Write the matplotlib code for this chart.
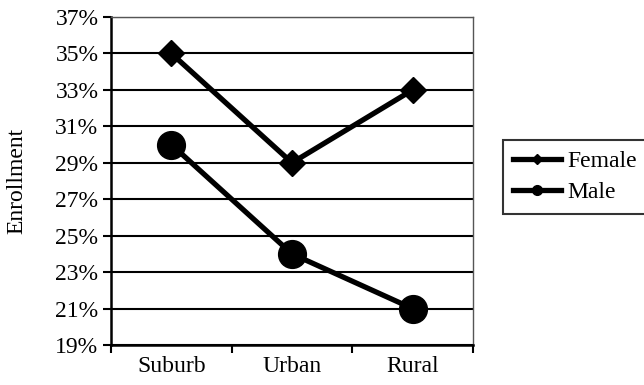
import numpy as np
from matplotlib import pyplot as plt
from matplotlib.lines import Line2D

plt.rcParams['font.family'] = 'serif'
plt.rcParams['font.serif'] = ['Liberation Serif', 'Times New Roman', 'DejaVu Serif']

categories = ['Suburb', 'Urban', 'Rural']
female = [35, 29, 33]
male = [30, 24, 21]
y_ticks = list(range(19, 38, 2))

fig = plt.figure(figsize=(6.44, 3.85), dpi=100)
ax = fig.add_axes([111 / 644, 40 / 385, 362 / 644, 328 / 385])

x = np.arange(len(categories))
ax.plot(x, female, color='black', lw=3.8, marker='D', ms=13, zorder=3)
ax.plot(x, male, color='black', lw=3.8, marker='o', ms=20, zorder=3)

ax.set_xlim(-0.5, 2.5)
ax.set_ylim(19, 37)
ax.set_yticks(y_ticks)
ax.set_yticklabels([f'{v}%' for v in y_ticks], fontsize=17)
ax.yaxis.grid(True, color='black', lw=1.5)
ax.set_axisbelow(True)

ax.set_xticks(x)
ax.set_xticklabels(categories, fontsize=17)
ax.tick_params(axis='x', length=0, pad=8)
ax.set_xticks([-0.5, 0.5, 1.5, 2.5], minor=True)
ax.tick_params(axis='x', which='minor', length=6, width=1.5, direction='out')
ax.tick_params(axis='y', length=6, width=1.5, direction='out', pad=3)

ax.spines['left'].set_linewidth(1.8)
ax.spines['bottom'].set_linewidth(1.8)
for s in ['top', 'right']:
    ax.spines[s].set_linestyle((0, (1, 1)))
    ax.spines[s].set_color('#555555')
    ax.spines[s].set_linewidth(1.0)

ax.set_ylabel('Enrollment', fontsize=17, labelpad=20)

handles = [
    Line2D([], [], color='black', lw=3.8, marker='D', ms=5),
    Line2D([], [], color='black', lw=3.8, marker='o', ms=7),
]
leg = fig.legend(handles, ['Female', 'Male'], loc='center left',
                 bbox_to_anchor=(491 / 644, 1 - 177 / 385), fontsize=17,
                 frameon=True, fancybox=False, edgecolor='black',
                 handlelength=2.0, handletextpad=0.3, borderpad=0.45,
                 labelspacing=0.4)
leg.get_frame().set_linewidth(1.5)

fig.savefig('out.png', dpi=100)
